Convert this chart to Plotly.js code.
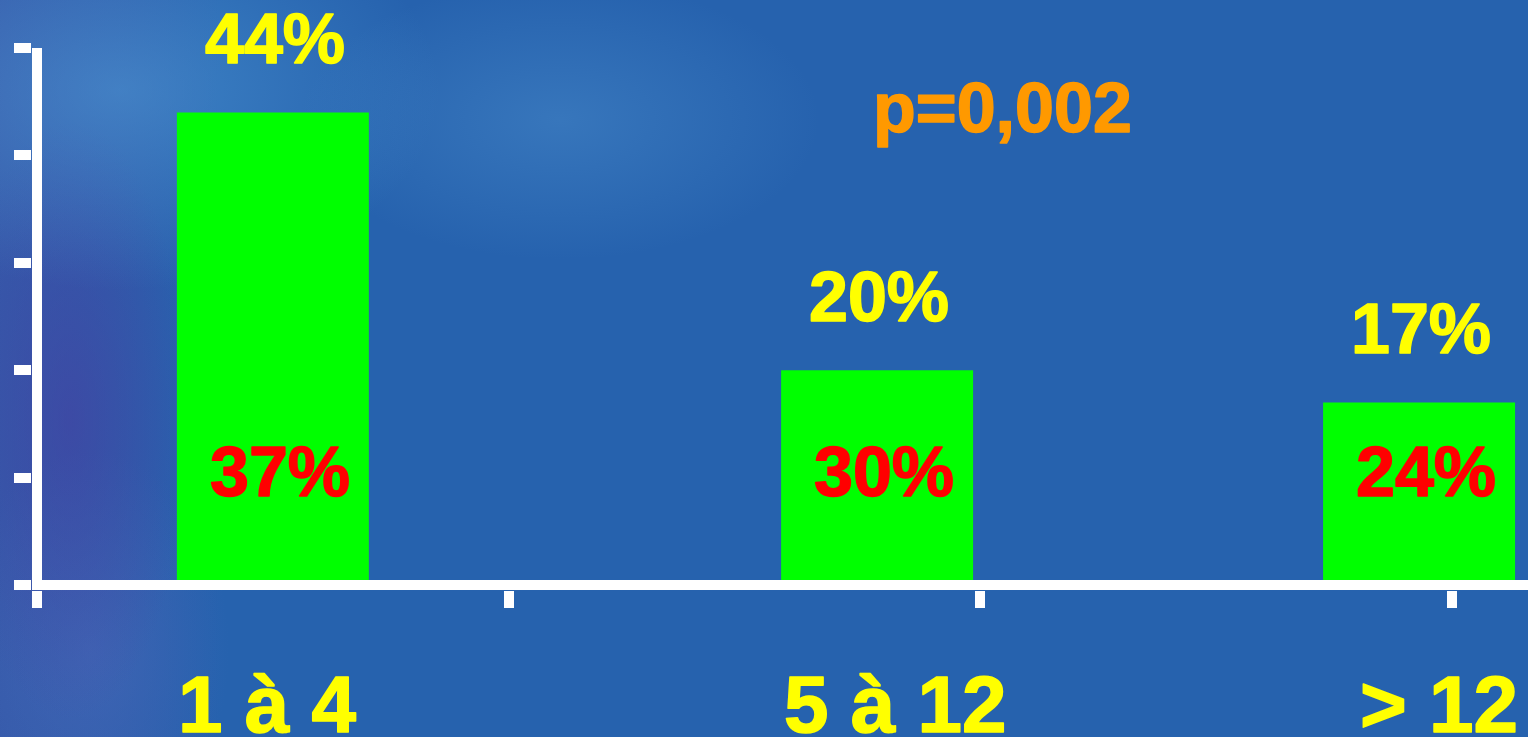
<!DOCTYPE html>
<html>
<head>
<meta charset="utf-8">
<script src="https://cdn.plot.ly/plotly-3.0.1.min.js"></script>
<style>
html, body { margin: 0; padding: 0; width: 1528px; height: 737px; overflow: hidden; }
body {
  background-color: #2662ae;
  background-image:
    radial-gradient(ellipse 260px 140px at 560px 120px, rgba(95,165,220,0.30), rgba(95,165,220,0) 100%),
    radial-gradient(ellipse 320px 200px at 120px 90px, rgba(90,170,225,0.45), rgba(90,170,225,0) 100%),
    radial-gradient(ellipse 120px 300px at 70px 420px, rgba(70,60,160,0.55), rgba(70,60,160,0) 100%),
    radial-gradient(ellipse 140px 200px at 90px 650px, rgba(80,110,190,0.45), rgba(80,110,190,0) 100%),
    linear-gradient(90deg, rgba(70,80,165,0.45) 0px, rgba(70,80,165,0.25) 130px, rgba(70,80,165,0) 220px);
}
#chart { width: 1528px; height: 737px; }
</style>
</head>
<body>
<div id="chart"></div>
<script>
// ---- data ----
const categories = ["1 à 4", "5 à 12", "> 12"];
const barValues = [44, 20, 17];      // green bars (yellow labels)
const innerValues = [37, 30, 24];    // red labels inside bars
const yTickVals = [0, 10, 20, 30, 40, 50];
const pValueText = "p=0,002";

// ---- layout positions (x-axis units, one unit per category slot) ----
const barPos = [0.500, 1.781, 2.930];
const labelPos = [0.487, 1.819, 2.972];
const boundaryTicks = [0, 1, 2, 3];
const barWidth = 0.407;

const FONT = "Liberation Sans, Arial, sans-serif";
const pct = v => v + "%";

const trace = {
  type: "bar",
  x: barPos,
  y: barValues,
  width: barWidth,
  marker: { color: "#00ff00", line: { width: 0 } },
  hoverinfo: "skip",
  showlegend: false
};

const annotations = [];
barValues.forEach((v, i) => {
  annotations.push({
    x: barPos[i], y: v, xref: "x", yref: "y",
    text: "<b>" + pct(v) + "</b>", showarrow: false,
    xanchor: "center", yanchor: "middle", xshift: 2, yshift: 73,
    font: { family: FONT, size: 70, color: "#ffff00" }
  });
});
innerValues.forEach((v, i) => {
  annotations.push({
    x: barPos[i], y: 10.5, xref: "x", yref: "y",
    text: "<b>" + pct(v) + "</b>", showarrow: false,
    xanchor: "center", yanchor: "middle", xshift: 7,
    font: { family: FONT, size: 70, color: "#ff0000" }
  });
});
categories.forEach((c, i) => {
  annotations.push({
    x: labelPos[i], y: -0.2111, xref: "x", yref: "paper",
    text: "<b>" + c + "</b>", showarrow: false,
    xanchor: "center", yanchor: "middle",
    font: { family: FONT, size: 80, color: "#ffff00" }
  });
});
annotations.push({
  x: 2.046, y: 44.4, xref: "x", yref: "y",
  text: "<b>" + pValueText + "</b>", showarrow: false,
  xanchor: "center", yanchor: "middle",
  font: { family: FONT, size: 70, color: "#ff9900" }
});

const pxPerX = 471.7;
const pxPerY = 10.75;

const layout = {
  width: 1528, height: 737,
  margin: { l: 32, r: 0, t: 48, b: 146.5, pad: 0 },
  paper_bgcolor: "rgba(0,0,0,0)",
  plot_bgcolor: "rgba(0,0,0,0)",
  showlegend: false,
  xaxis: {
    type: "linear",
    range: [-5 / pxPerX, (1528 - 37) / pxPerX],
    tickmode: "array", tickvals: boundaryTicks,
    showticklabels: false,
    ticks: "outside", ticklen: 16.5, tickwidth: 10, tickcolor: "#ffffff",
    showgrid: false, showline: false,
    zeroline: true, zerolinecolor: "#ffffff", zerolinewidth: 10,
    zerolinelayer: "above traces",
    fixedrange: true
  },
  yaxis: {
    type: "linear",
    range: [-5 / pxPerY, 50],
    tickmode: "array", tickvals: yTickVals,
    showticklabels: false,
    ticks: "outside", ticklen: 17, tickwidth: 10, tickcolor: "#ffffff",
    showgrid: false, showline: false,
    zeroline: true, zerolinecolor: "#ffffff", zerolinewidth: 10,
    zerolinelayer: "above traces",
    fixedrange: true
  },
  annotations: annotations
};

Plotly.newPlot("chart", [trace], layout, { displayModeBar: false, staticPlot: true }).then(() => {
  // slightly heavier strokes on the slide texts
  document.querySelectorAll("#chart text.annotation-text").forEach(t => {
    const f = t.style.fill || t.getAttribute("fill");
    if (f) {
      t.style.stroke = f;
      t.style.strokeWidth = "1.5px";
      t.style.strokeLinejoin = "round";
    }
  });
});
</script>
</body>
</html>
